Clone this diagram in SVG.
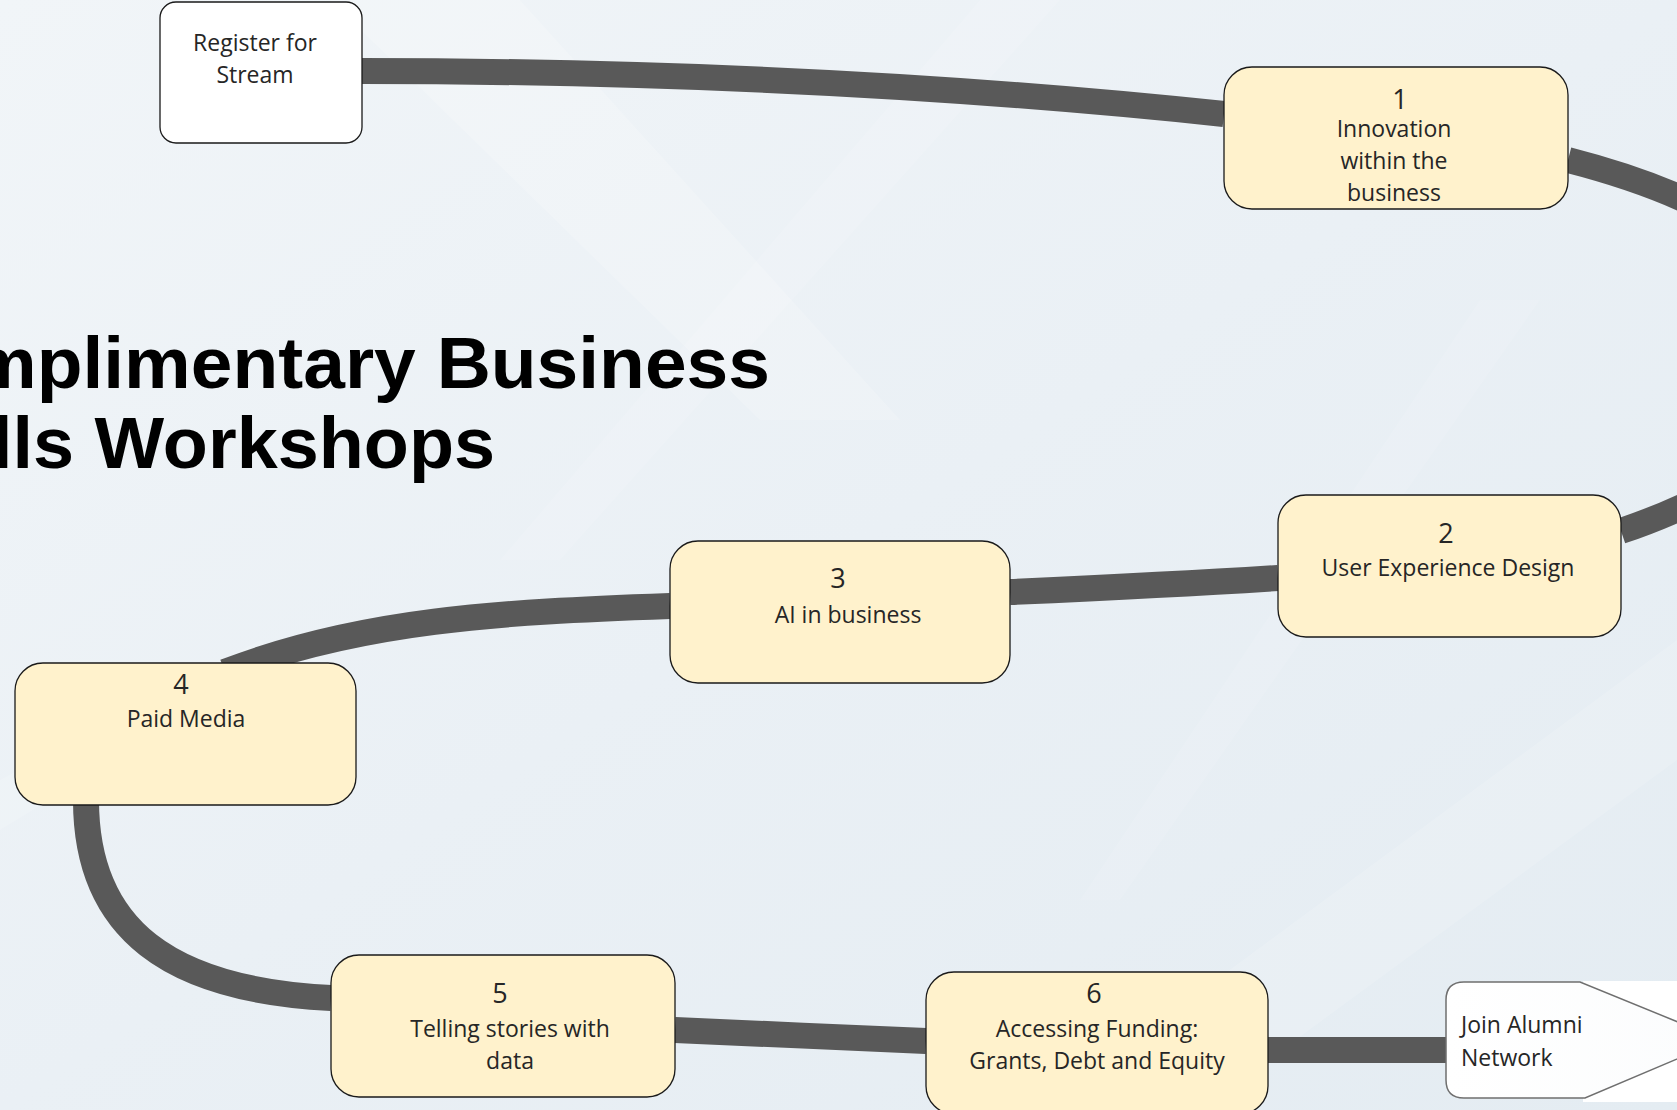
<svg xmlns="http://www.w3.org/2000/svg" width="1677" height="1110" viewBox="0 0 1677 1110">
  <defs>
    <linearGradient id="bg" x1="0" y1="0" x2="1" y2="1">
      <stop offset="0" stop-color="#f1f5f8"/>
      <stop offset="0.5" stop-color="#eaf0f5"/>
      <stop offset="1" stop-color="#e4ecf2"/>
    </linearGradient>
    <linearGradient id="tagFill" x1="0" y1="0" x2="1" y2="0">
      <stop offset="0" stop-color="#ffffff"/>
      <stop offset="1" stop-color="#fbfcfd"/>
    </linearGradient>
    <style>
      .step { fill: #fff2cc; stroke: #1a1a1a; stroke-width: 1.3; }
      .start { fill: #ffffff; stroke: #1a1a1a; stroke-width: 1.3; }
      .finish { fill: url(#tagFill); stroke: #6f6f6f; stroke-width: 1.5; }
      .label { font-family: "Open Sans", "Noto Sans", sans-serif; font-size: 23px; fill: #262626; text-anchor: middle; }
      .num { font-size: 27px; }
      .left { text-anchor: start; }
      .path { fill: none; stroke: #595959; stroke-width: 26; }
      .title { font-family: "Liberation Sans", Arial, sans-serif; font-weight: bold; font-size: 72px; fill: #000000; }
    </style>
  </defs>

  <!-- backdrop with soft diagonal light streaks -->
  <rect width="1677" height="1110" fill="url(#bg)"/>
  <g fill="#ffffff">
    <polygon points="330,0 520,0 900,420 760,420" opacity="0.18"/>
    <polygon points="980,0 1060,0 560,560 500,560" opacity="0.12"/>
    <polygon points="1677,640 1677,760 1200,1110 1040,1110" opacity="0.15"/>
    <polygon points="1480,300 1540,300 1120,900 1080,900" opacity="0.1"/>
    <polygon points="0,780 260,640 280,660 0,830" opacity="0.15"/>
  </g>
  <rect x="1583" y="981" width="94" height="121" fill="#ffffff"/>

  <!-- title -->
  <g id="title">
    <text class="title" x="-30" y="388" textLength="800" lengthAdjust="spacingAndGlyphs">mplimentary Business</text>
    <text class="title" x="-8" y="468" textLength="503" lengthAdjust="spacingAndGlyphs">lls Workshops</text>
  </g>

  <!-- route between steps -->
  <g id="connectors">
    <path class="path" d="M362,71 C650,71 950,85 1224,114"/>
    <path class="path" d="M1568,160 C1900,245 1901,436 1621,531"/>
    <path class="path" d="M1278,578 C1200,583 1100,588 1010,592"/>
    <path class="path" d="M670,606 C500,612 360,620 225,672"/>
    <path class="path" d="M86,800 C86,930 170,990 331,998"/>
    <path class="path" d="M675,1030 C750,1033 850,1038 926,1041"/>
    <path class="path" d="M1268,1050 L1446,1050"/>
  </g>

  <g id="register">
    <rect class="start" x="160" y="2" width="202" height="141" rx="16"/>
    <text class="label" x="255" y="51">Register for</text>
    <text class="label" x="255" y="83">Stream</text>
  </g>

  <g id="step1">
    <rect class="step" x="1224" y="67" width="344" height="142" rx="28"/>
    <text class="label num" x="1400" y="109">1</text>
    <text class="label" x="1394" y="137">Innovation</text>
    <text class="label" x="1394" y="169">within the</text>
    <text class="label" x="1394" y="201">business</text>
  </g>

  <g id="step2">
    <rect class="step" x="1278" y="495" width="343" height="142" rx="28"/>
    <text class="label num" x="1446" y="543">2</text>
    <text class="label" x="1448" y="576">User Experience Design</text>
  </g>

  <g id="step3">
    <rect class="step" x="670" y="541" width="340" height="142" rx="28"/>
    <text class="label num" x="838" y="588">3</text>
    <text class="label" x="848" y="623">AI in business</text>
  </g>

  <g id="step4">
    <rect class="step" x="15" y="663" width="341" height="142" rx="28"/>
    <text class="label num" x="181" y="694">4</text>
    <text class="label" x="186" y="727">Paid Media</text>
  </g>

  <g id="step5">
    <rect class="step" x="331" y="955" width="344" height="142" rx="28"/>
    <text class="label num" x="500" y="1003">5</text>
    <text class="label" x="510" y="1037">Telling stories with</text>
    <text class="label" x="510" y="1069">data</text>
  </g>

  <g id="step6">
    <rect class="step" x="926" y="972" width="342" height="142" rx="28"/>
    <text class="label num" x="1094" y="1003">6</text>
    <text class="label" x="1097" y="1037">Accessing Funding:</text>
    <text class="label" x="1097" y="1069">Grants, Debt and Equity</text>
  </g>

  <g id="alumni">
    <path class="finish" d="M1464,982 L1580,982 L1722,1040 L1585,1098 L1464,1098 Q1446,1098 1446,1080 L1446,1000 Q1446,982 1464,982 Z"/>
    <text class="label left" x="1461" y="1033">Join Alumni</text>
    <text class="label left" x="1461" y="1066">Network</text>
  </g>
</svg>
